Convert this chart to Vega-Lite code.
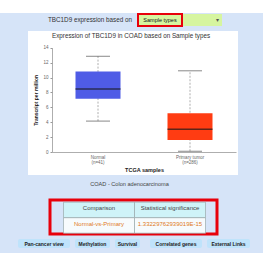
{
  "$schema": "https://vega.github.io/schema/vega-lite/v6.json",
  "background": "#d6e4f8",
  "padding": 0,
  "spacing": 0,
  "config": {"view": {"stroke": null}, "font": "Liberation Sans", "concat": {"spacing": 0}, "axisY": {"labelOverlap": false}, "axis": {"labelOverlap": false}},
  "vconcat": [
    {"width": 263, "height": 13, "data": {"values": [{}]}, "mark": {"type": "text", "text": ""}, "view": {"fill": "white"}},
    {
      "spacing": 0,
      "hconcat": [
        {"width": 137, "height": 12, "data": {"values": [{}]}, "mark": {"type": "text", "text": "TBC1D9 expression based on", "align": "right", "fontSize": 6.3, "color": "#333", "dx": -5}, "encoding": {"x": {"value": "width"}}},
        {"width": 44, "height": 12, "data": {"values": [{}]}, "mark": {"type": "text", "text": "Sample types", "fontSize": 5.5, "color": "#111"}, "view": {"fill": "#d6f5a0", "stroke": "#e8000b", "strokeWidth": 2}},
        {"width": 39, "height": 12, "data": {"values": [{}]}, "mark": {"type": "text", "text": "▾", "align": "right", "dx": -3, "fontSize": 6, "color": "#555"}, "encoding": {"x": {"value": "width"}}, "view": {"fill": "#d6f5a0"}},
        {"width": 43, "height": 17, "data": {"values": [{}]}, "mark": {"type": "text", "text": ""}}
      ]
    },
    {
      "spacing": 0,
      "hconcat": [
        {"width": 28, "height": 144, "data": {"values": [{}]}, "mark": {"type": "text", "text": ""}},
        {
          "width": 210, "height": 144,
          "view": {"fill": "white"},
          "title": {"text": "Expression of TBC1D9 in COAD based on Sample types", "fontSize": 6.3, "fontWeight": "normal", "color": "#333", "offset": -8, "baseline": "top", "dx": -2},
          "data": {"values": [
            {"group": "Normal|(n=41)", "min": 4.15, "q1": 7.15, "median": 8.45, "q3": 10.8, "max": 12.85},
            {"group": "Primary tumor|(n=286)", "min": 0.1, "q1": 1.6, "median": 3.05, "q3": 5.2, "max": 10.9}
          ]},
          "encoding": {
            "x": {"field": "group", "type": "nominal", "sort": null,
              "scale": {"range": [24, 208], "paddingInner": 0, "paddingOuter": 0},
              "axis": {"title": "TCGA samples", "offset": -23, "labelAngle": 0, "labelExpr": "split(datum.value, '|')", "labelFontSize": 4.5, "labelColor": "#666", "labelPadding": 2, "labelLineHeight": 5, "ticks": false, "domainColor": "#999", "domainWidth": 0.8, "titleFontSize": 5.5, "titleColor": "#222", "titleFontWeight": "bold", "titleY": 17, "titleBaseline": "middle"}}
          },
          "layer": [
            {"mark": {"type": "rule", "strokeDash": [2, 1.5], "color": "#999", "strokeWidth": 0.8},
             "encoding": {
               "y": {"field": "min", "type": "quantitative", "title": "Transcript per million",
                 "scale": {"domain": [0, 14], "range": [121, 16.7], "nice": false, "zero": false},
                 "axis": {"offset": -24, "values": [0, 2, 4, 6, 8, 10, 12, 14], "labelOverlap": false, "grid": false, "labelFontSize": 4.5, "labelColor": "#666", "labelPadding": 2, "tickSize": 2, "tickColor": "#999", "domainColor": "#999", "domainWidth": 0.8, "titleFontSize": 5, "titleColor": "#222", "titleFontWeight": "bold", "titleX": -17, "titleBaseline": "middle"}},
               "y2": {"field": "max"}}},
            {"mark": {"type": "tick", "size": 24, "thickness": 1, "color": "#555"},
             "encoding": {"y": {"field": "max", "type": "quantitative", "title": "Transcript per million",
                 "axis": {"offset": -24, "values": [0, 2, 4, 6, 8, 10, 12, 14], "labelOverlap": false, "grid": false, "labelFontSize": 4.5, "labelColor": "#666", "labelPadding": 2, "tickSize": 2, "tickColor": "#999", "domainColor": "#999", "domainWidth": 0.8, "titleFontSize": 5, "titleColor": "#222", "titleFontWeight": "bold", "titleX": -17, "titleBaseline": "middle"}}}},
            {"mark": {"type": "tick", "size": 24, "thickness": 1, "color": "#555"},
             "encoding": {"y": {"field": "min", "type": "quantitative", "title": "Transcript per million",
                 "axis": {"offset": -24, "values": [0, 2, 4, 6, 8, 10, 12, 14], "labelOverlap": false, "grid": false, "labelFontSize": 4.5, "labelColor": "#666", "labelPadding": 2, "tickSize": 2, "tickColor": "#999", "domainColor": "#999", "domainWidth": 0.8, "titleFontSize": 5, "titleColor": "#222", "titleFontWeight": "bold", "titleX": -17, "titleBaseline": "middle"}}}},
            {"mark": {"type": "bar", "size": 45},
             "encoding": {
               "y": {"field": "q1", "type": "quantitative", "title": "Transcript per million",
                 "axis": {"offset": -24, "values": [0, 2, 4, 6, 8, 10, 12, 14], "labelOverlap": false, "grid": false, "labelFontSize": 4.5, "labelColor": "#666", "labelPadding": 2, "tickSize": 2, "tickColor": "#999", "domainColor": "#999", "domainWidth": 0.8, "titleFontSize": 5, "titleColor": "#222", "titleFontWeight": "bold", "titleX": -17, "titleBaseline": "middle"}},
               "y2": {"field": "q3"},
               "color": {"field": "group", "type": "nominal", "sort": null, "scale": {"range": ["#4f5ce6", "#ff3c12"]}, "legend": null}}},
            {"mark": {"type": "tick", "size": 45, "thickness": 1.5, "color": "#1a1a1a"},
             "encoding": {"y": {"field": "median", "type": "quantitative", "title": "Transcript per million",
                 "axis": {"offset": -24, "values": [0, 2, 4, 6, 8, 10, 12, 14], "labelOverlap": false, "grid": false, "labelFontSize": 4.5, "labelColor": "#666", "labelPadding": 2, "tickSize": 2, "tickColor": "#999", "domainColor": "#999", "domainWidth": 0.8, "titleFontSize": 5, "titleColor": "#222", "titleFontWeight": "bold", "titleX": -17, "titleBaseline": "middle"}}}}
          ]
        }
      ]
    },
    {"width": 263, "height": 23, "data": {"values": [{}]}, "mark": {"type": "text", "text": "COAD - Colon adenocarcinoma", "fontSize": 5.6, "color": "#444", "dy": -2.5, "dx": -2}},
    {
      "spacing": 0,
      "hconcat": [
        {"width": 48, "height": 37, "data": {"values": [{}]}, "mark": {"type": "text", "text": ""}},
        {
          "width": 167, "height": 34,
          "view": {"stroke": "#e8000b", "strokeWidth": 3},
          "data": {"values": [
            {"r": "h", "c": "a", "t": "Comparison"},
            {"r": "h", "c": "b", "t": "Statistical significance"},
            {"r": "b", "c": "a", "t": "Normal-vs-Primary"},
            {"r": "b", "c": "b", "t": "1.33229762939019E-15"}
          ]},
          "encoding": {
            "x": {"field": "c", "type": "nominal", "axis": null, "scale": {"range": [13.5, 155.5], "paddingInner": 0, "paddingOuter": 0}},
            "y": {"field": "r", "type": "nominal", "axis": null, "sort": ["h", "b"], "scale": {"range": [2.2, 33.2], "paddingInner": 0, "paddingOuter": 0}}
          },
          "layer": [
            {"mark": {"type": "rect", "stroke": "#99a9aa", "strokeWidth": 0.7},
             "encoding": {"fill": {"field": "r", "type": "nominal", "scale": {"domain": ["h", "b"], "range": ["#cff3f8", "#f7fbfd"]}, "legend": null}}},
            {"mark": {"type": "text", "fontSize": 6, "dy": -1.5},
             "encoding": {"text": {"field": "t"}, "color": {"field": "r", "type": "nominal", "scale": {"domain": ["h", "b"], "range": ["#444444", "#e07a22"]}, "legend": null}}}
          ],
          "resolve": {"scale": {"color": "independent", "fill": "independent"}}
        }
      ]
    },
    {
      "spacing": 10,
      "hconcat": [
        {
          "spacing": 5,
          "hconcat": [
            {"width": 13, "height": 9, "data": {"values": [{}]}, "mark": {"type": "text", "text": ""}},
            {"width": 52, "height": 9, "data": {"values": [{}]}, "mark": {"type": "text", "text": "Pan-cancer view", "fontSize": 5, "fontWeight": "bold", "color": "#222"}, "view": {"fill": "#bfe3fb", "cornerRadius": 2}},
            {"width": 35, "height": 9, "data": {"values": [{}]}, "mark": {"type": "text", "text": "Methylation", "fontSize": 5, "fontWeight": "bold", "color": "#222"}, "view": {"fill": "#bfe3fb", "cornerRadius": 2}},
            {"width": 25, "height": 9, "data": {"values": [{}]}, "mark": {"type": "text", "text": "Survival", "fontSize": 5, "fontWeight": "bold", "color": "#222"}, "view": {"fill": "#bfe3fb", "cornerRadius": 2}}
          ]
        },
        {
          "spacing": 5,
          "hconcat": [
            {"width": 52, "height": 9, "data": {"values": [{}]}, "mark": {"type": "text", "text": "Correlated genes", "fontSize": 5, "fontWeight": "bold", "color": "#222"}, "view": {"fill": "#bfe3fb", "cornerRadius": 2}},
            {"width": 43, "height": 9, "data": {"values": [{}]}, "mark": {"type": "text", "text": "External Links", "fontSize": 5, "fontWeight": "bold", "color": "#222"}, "view": {"fill": "#bfe3fb", "cornerRadius": 2}}
          ]
        }
      ]
    },
    {"width": 263, "height": 10, "data": {"values": [{}]}, "mark": {"type": "text", "text": ""}}
  ]
}
